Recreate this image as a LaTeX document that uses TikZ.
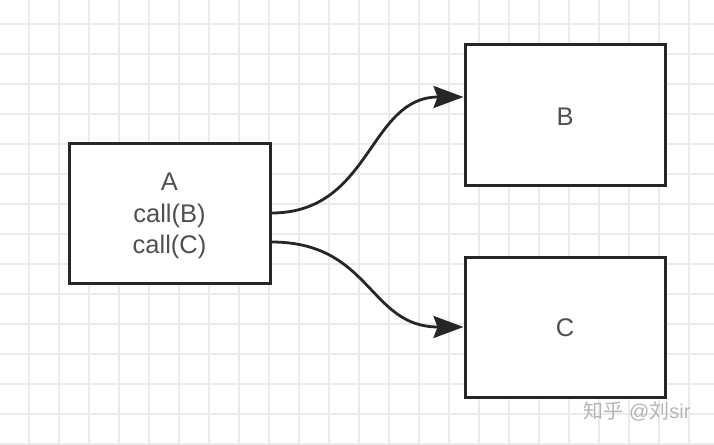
\documentclass[tikz,border=0pt]{standalone}
\usepackage{fontspec}
\setmainfont{Liberation Sans}
\newfontfamily\cjkfont{Noto Sans CJK SC}
\usetikzlibrary{arrows.meta}
\definecolor{gridc}{HTML}{EBEBEB}
\definecolor{boxc}{HTML}{262626}
\definecolor{txtc}{HTML}{505050}
\definecolor{wmc}{HTML}{B4B4B4}
\tikzset{
  gridline/.style={gridc, line width=1.2pt},
  blockbox/.style={draw=boxc, line width=3pt, fill=white, minimum width=#1, minimum height=140pt, inner sep=0pt},
  boxtext/.style={text=txtc, align=center, font=\fontsize{25.5}{31.5}\selectfont, inner sep=0pt},
  link/.style={draw=boxc, line width=2.8pt, -{Stealth[length=30pt,width=22pt,inset=4pt]}},
}
\begin{document}
\begin{tikzpicture}[x=1pt,y=-1pt]
\useasboundingbox (0,0) rectangle (714,444);
\fill[white] (0,0) rectangle (714,444);
\foreach \i in {0,...,23} {\draw[gridline] ({29+30*\i},0) -- ({29+30*\i},444);}
\foreach \j in {0,...,14} {\draw[gridline] (0,{24+30*\j}) -- (714,{24+30*\j});}
\node[blockbox=201pt, label={[name=At, boxtext, yshift=-3pt]center:A\\call(B)\\call(C)}] (A) at (169.5,213) {};
\node[blockbox=200pt, label={[name=Bt, boxtext, yshift=-2pt]center:B}] (B) at (565,115) {};
\node[blockbox=200pt, label={[name=Ct, boxtext, yshift=-1pt]center:C}] (C) at (565,327) {};
\draw[link] (A.east) .. controls +(100pt,0) and +(-95pt,0) .. ([yshift=18pt]B.west);
\draw[link] ([yshift=-29pt]A.east) .. controls +(100pt,0) and +(-95pt,0) .. (C.west);
\node[text=wmc, font=\fontsize{20}{22}\selectfont] (wm) at (637,411) {{\cjkfont 知乎} @{\cjkfont 刘}sir};
\end{tikzpicture}
\end{document}
